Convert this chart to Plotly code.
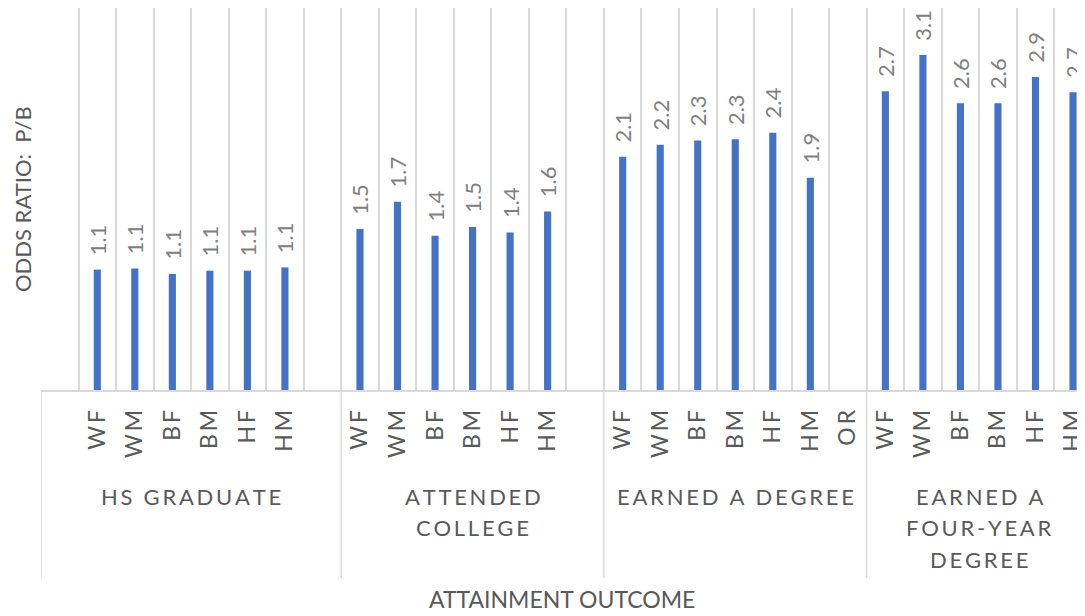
import plotly.graph_objs as go

BAR_COLOR = "#4472C4"
GRID_COLOR = "#D9D9D9"
AXIS_TEXT = "#595959"
LABEL_TEXT = "#808080"
TRANSPARENT = "rgba(0,0,0,0)"
FONT = "Lato, 'Open Sans', sans-serif"

# Outcome groups (wrapped the way the category axis shows them)
GROUP_LABELS = [
    "HS GRADUATE",
    "ATTENDED\nCOLLEGE",
    "EARNED A DEGREE",
    "EARNED A\nFOUR-YEAR\nDEGREE",
]

# Sub-categories per group, blanks are empty rows in the source sheet
HS_CATS = ["", "WF", "WM", "BF", "BM", "HF", "HM", ""]
HS_VALUES = [None, 1.10, 1.11, 1.06, 1.09, 1.09, 1.12, None]

COLLEGE_CATS = ["WF", "WM", "BF", "BM", "HF", "HM", ""]
COLLEGE_VALUES = [1.47, 1.72, 1.41, 1.49, 1.44, 1.63, None]

DEGREE_CATS = ["WF", "WM", "BF", "BM", "HF", "HM", "OR"]
DEGREE_VALUES = [2.13, 2.24, 2.28, 2.29, 2.35, 1.94, None]

FOUR_YEAR_CATS = ["WF", "WM", "BF", "BM", "HF", "HM"]
FOUR_YEAR_VALUES = [2.73, 3.06, 2.62, 2.62, 2.86, 2.72]

Y_TITLE = "ODDS RATIO:  P/B"
X_TITLE = "ATTAINMENT OUTCOME"


def spaced(s, sep="\u2009"):
    # rough stand-in for the letter spacing on the category axis
    return sep.join(s)


cats = [HS_CATS, COLLEGE_CATS, DEGREE_CATS, FOUR_YEAR_CATS]
vals = [HS_VALUES, COLLEGE_VALUES, DEGREE_VALUES, FOUR_YEAR_VALUES]

labels = [c for group in cats for c in group]
values = [v for group in vals for v in group]
x = list(range(len(labels)))

# pixel geometry (page body keeps its default 8px margin)
width, height = 1077, 608
left, top, bottom = 33, 0, 226
plot_h = height - top - bottom
slot_px = 37.6
x_end = -0.5 + (width - left) / slot_px


def py(px_below_axis):
    # pixels below the category axis line -> paper y
    return -px_below_axis / plot_h


# group boundaries on the category scale
bounds = [-0.5]
for group in cats:
    bounds.append(bounds[-1] + len(group))

shapes = [
    {
        "type": "line",
        "xref": "x",
        "yref": "paper",
        "x0": b,
        "x1": b,
        "y0": 0,
        "y1": py(188),
        "line": {"color": GRID_COLOR, "width": 1.5},
    }
    for b in bounds[:-1]
]

annotations = []
for i, text in enumerate(GROUP_LABELS):
    centre = (bounds[i] + bounds[i + 1]) / 2
    for k, line in enumerate(text.split("\n")):
        annotations.append(
            {
                "text": spaced(line),
                "x": centre,
                "xref": "x",
                "xanchor": "center",
                "y": py(106 + 31.7 * k),
                "yref": "paper",
                "yanchor": "middle",
                "showarrow": False,
                "font": {"size": 22, "color": AXIS_TEXT, "family": FONT},
            }
        )

annotations.append(
    {
        "text": X_TITLE,
        "x": 0.5,
        "xref": "paper",
        "xanchor": "center",
        "y": py(209),
        "yref": "paper",
        "yanchor": "middle",
        "showarrow": False,
        "font": {"size": 23, "color": AXIS_TEXT, "family": FONT},
    }
)
annotations.append(
    {
        "text": Y_TITLE,
        "x": -19 / (width - left),
        "xref": "paper",
        "xanchor": "center",
        "y": 0.5,
        "yref": "paper",
        "yanchor": "middle",
        "textangle": -90,
        "showarrow": False,
        "font": {"size": 22, "color": AXIS_TEXT, "family": FONT},
    }
)

fig = go.Figure(
    data=[
        go.Bar(
            x=x,
            y=values,
            width=0.19,
            marker={"color": BAR_COLOR, "line": {"width": 0}},
            texttemplate="\u00a0\u00a0%{y:.1f}",
            textposition="outside",
            textangle=-90,
            constraintext="none",
            cliponaxis=False,
            textfont={"size": 22, "color": LABEL_TEXT, "family": FONT},
            hoverinfo="x+y",
        )
    ],
    layout={
        "width": width,
        "height": height,
        "margin": {"l": left, "r": 0, "t": top, "b": bottom},
        "showlegend": False,
        "font": {"family": FONT, "color": AXIS_TEXT},
        "xaxis": {
            "range": [-0.5, x_end],
            "tickmode": "array",
            "tickvals": x,
            "ticktext": [spaced(lab) for lab in labels],
            "tickangle": -90,
            "tickfont": {"size": 23, "color": AXIS_TEXT, "family": FONT},
            "ticks": "",
            "ticklabelstandoff": 9,
            "ticklabeloverflow": "allow",
            "showgrid": False,
            "zeroline": False,
            "showline": True,
            "linecolor": GRID_COLOR,
            "linewidth": 1.5,
            "minor": {
                "tickmode": "linear",
                "tick0": 0.5,
                "dtick": 1,
                "showgrid": True,
                "gridcolor": GRID_COLOR,
                "gridwidth": 1.5,
                "ticks": "",
            },
        },
        "yaxis": {
            "range": [0, 3.49],
            "showgrid": False,
            "zeroline": False,
            "showticklabels": False,
            "showline": False,
        },
        "shapes": shapes,
        "annotations": annotations,
        "paper_bgcolor": "white",
        "plot_bgcolor": TRANSPARENT,
    },
)

fig.write_html("out.html")
